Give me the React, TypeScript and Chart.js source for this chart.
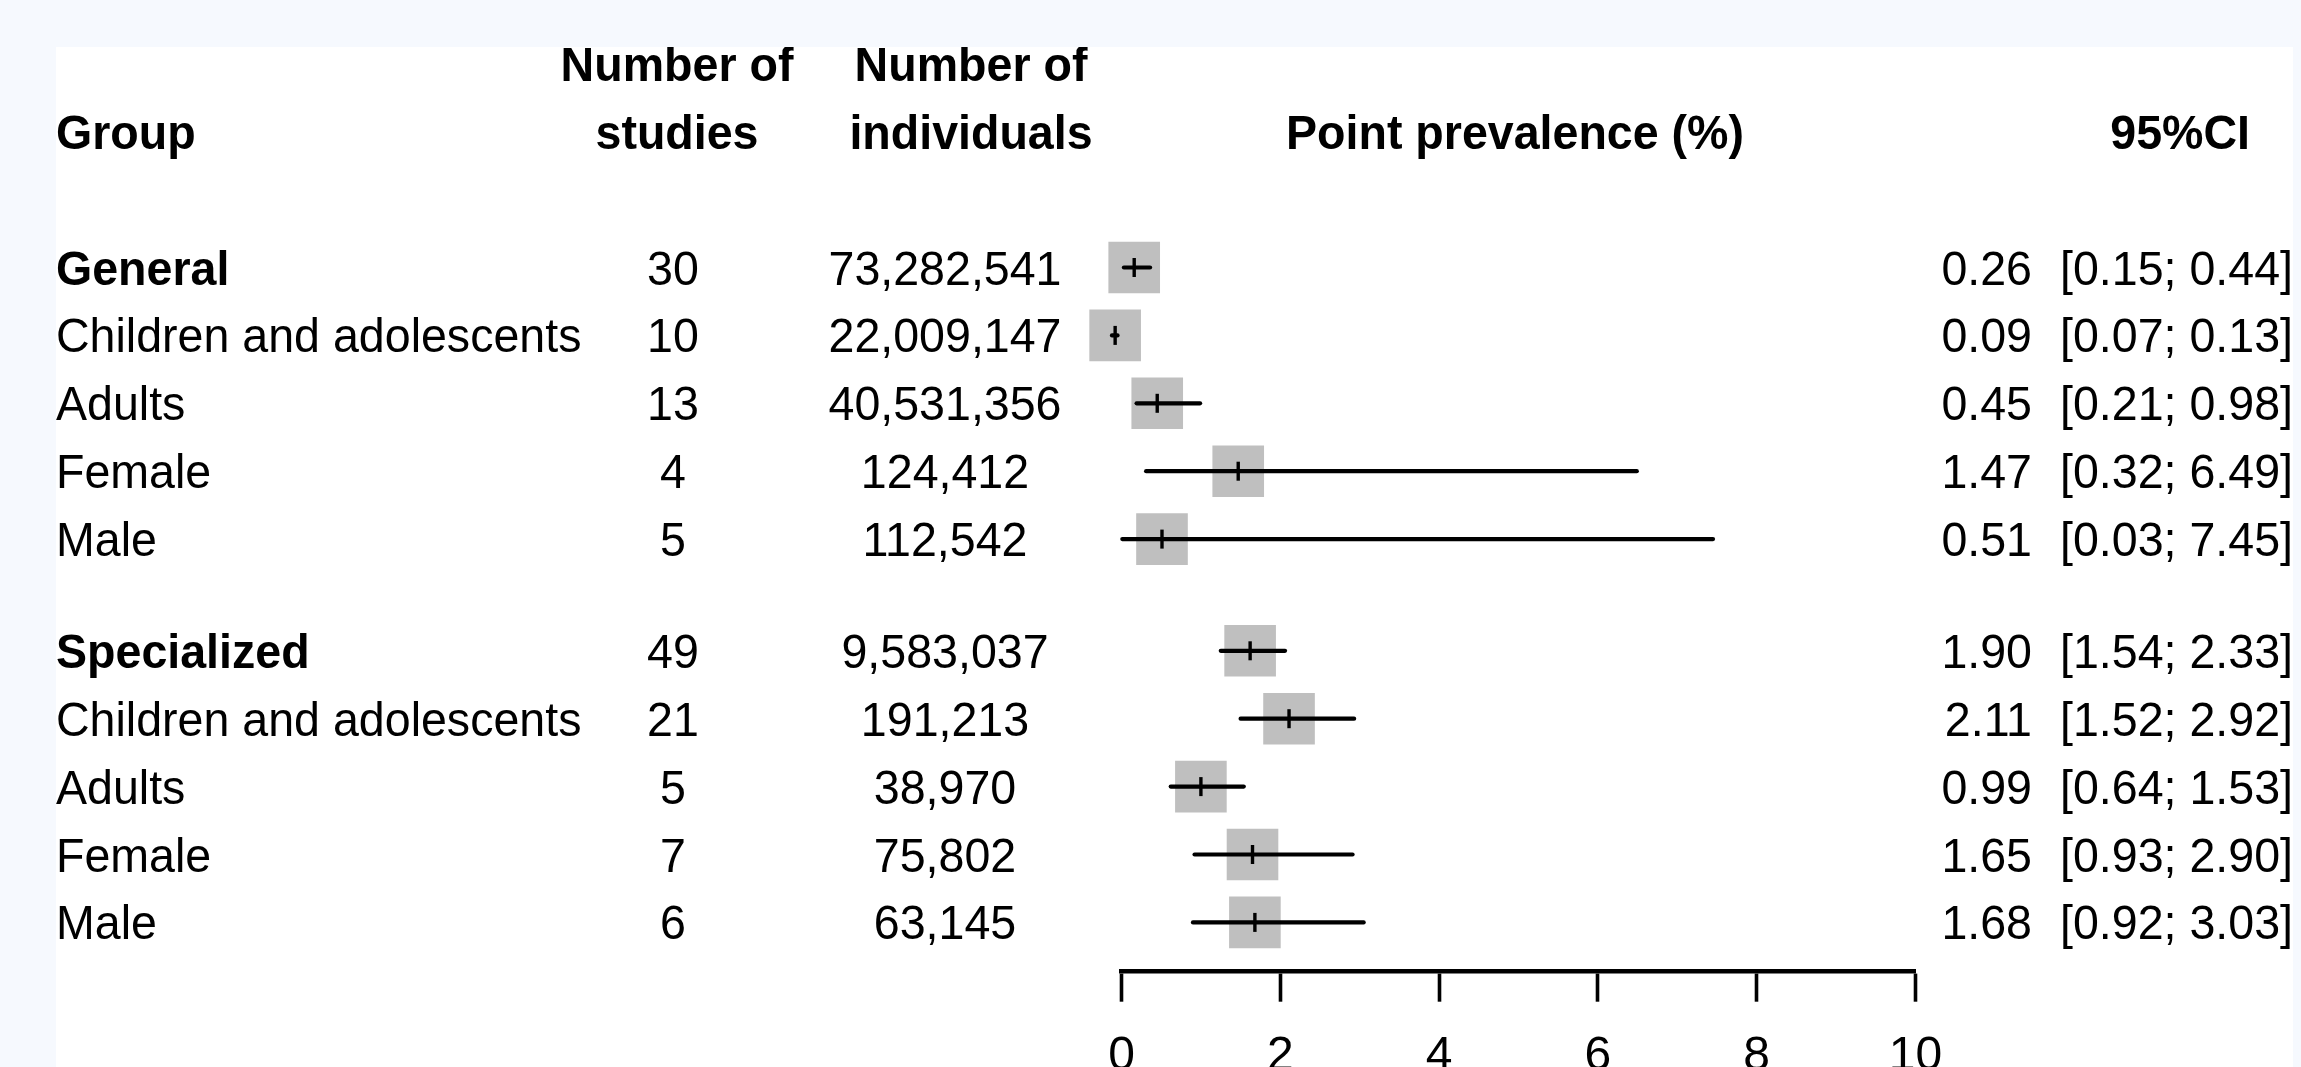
import React, { useEffect, useRef } from "react";
import { Chart, registerables } from "chart.js";

Chart.register(...registerables);

// ---------------- data ----------------
const groupNames = [
  "General",
  "Children and adolescents",
  "Adults",
  "Female",
  "Male",
  "Specialized",
  "Children and adolescents",
  "Adults",
  "Female",
  "Male",
];
const groupIsHeading = [true, false, false, false, false, true, false, false, false, false];
const studyCounts = [30, 10, 13, 4, 5, 49, 21, 5, 7, 6];
const individualCounts = [73282541, 22009147, 40531356, 124412, 112542, 9583037, 191213, 38970, 75802, 63145];
const prevalence = [0.26, 0.09, 0.45, 1.47, 0.51, 1.9, 2.11, 0.99, 1.65, 1.68];
const ciLower = [0.15, 0.07, 0.21, 0.32, 0.03, 1.54, 1.52, 0.64, 0.93, 0.92];
const ciUpper = [0.44, 0.13, 0.98, 6.49, 7.45, 2.33, 2.92, 1.53, 2.9, 3.03];

// where the marks sit in the figure
const markEstimate = [0.16, -0.08, 0.45, 1.47, 0.51, 1.62, 2.11, 1.0, 1.65, 1.68];
const markLower = [0.03, -0.12, 0.19, 0.31, 0.01, 1.25, 1.5, 0.62, 0.92, 0.9];
const markUpper = [0.36, -0.05, 0.99, 6.49, 7.45, 2.06, 2.93, 1.54, 2.91, 3.05];

const axisTicks = [0, 2, 4, 6, 8, 10];

const headerGroup = "Group";
const headerStudies = ["Number of", "studies"];
const headerIndividuals = ["Number of", "individuals"];
const headerPlot = "Point prevalence (%)";
const headerCI = "95%CI";

// ---------------- layout / style ----------------
const PAGE_BG = "#f6f9fe";
const PANEL_LEFT = 56;
const PANEL_TOP = 47;
const CANVAS_W = 2237;
const CANVAS_H = 1070;
const FONT = '"Liberation Sans", Arial, Helvetica, sans-serif';
const FONT_SIZE = 48;
const TEXT_SX = 0.97;
const CAP_HALF = 17;
const SECTION_GAP = 0.645;
const BOX_GREY = "#bfbfbf";

const COL_GROUP_X = 0;
const COL_STUDIES_X = 617;
const COL_STUDIES_HEAD_X = 621;
const COL_INDIV_X = 889;
const COL_INDIV_HEAD_X = 915;
const COL_EST_RIGHT = 1976;
const COL_CI_LEFT = 2004;
const COL_CI_HEAD_RIGHT = 2194;

const rowPos = (i: number) => i + (i >= 5 ? SECTION_GAP : 0);
const fmt2 = (v: number) => v.toFixed(2);

const tablePlugin = {
  id: "forestTable",
  afterDraw(chart: any) {
    const ctx = chart.ctx as CanvasRenderingContext2D;
    const ys = chart.scales.y;
    const xs = chart.scales.x;
    const put = (text: string, px: number, row: number, align: CanvasTextAlign, bold: boolean) => {
      const py = ys.getPixelForValue(row) + CAP_HALF;
      ctx.save();
      ctx.translate(px, py);
      ctx.scale(TEXT_SX, 1);
      ctx.font = `${bold ? "bold " : ""}${FONT_SIZE}px ${FONT}`;
      ctx.fillStyle = "#000";
      ctx.textAlign = align;
      ctx.textBaseline = "alphabetic";
      ctx.fillText(text, 0, 0);
      ctx.restore();
    };
    // headers
    put(headerGroup, COL_GROUP_X, -2, "left", true);
    put(headerStudies[0], COL_STUDIES_HEAD_X, -3, "center", true);
    put(headerStudies[1], COL_STUDIES_HEAD_X, -2, "center", true);
    put(headerIndividuals[0], COL_INDIV_HEAD_X, -3, "center", true);
    put(headerIndividuals[1], COL_INDIV_HEAD_X, -2, "center", true);
    const plotMid = (xs.getPixelForValue(axisTicks[0]) + xs.getPixelForValue(axisTicks[axisTicks.length - 1])) / 2;
    put(headerPlot, plotMid - 3.5, -2, "center", true);
    put(headerCI, COL_CI_HEAD_RIGHT, -2, "right", true);
    // rows
    groupNames.forEach((name, i) => {
      const r = rowPos(i);
      put(name, COL_GROUP_X, r, "left", groupIsHeading[i]);
      put(String(studyCounts[i]), COL_STUDIES_X, r, "center", false);
      put(individualCounts[i].toLocaleString("en-US"), COL_INDIV_X, r, "center", false);
      put(fmt2(prevalence[i]), COL_EST_RIGHT, r, "right", false);
      put(`[${fmt2(ciLower[i])}; ${fmt2(ciUpper[i])}]`, COL_CI_LEFT, r, "left", false);
    });
  },
};

export default function App() {
  const canvasRef = useRef<HTMLCanvasElement | null>(null);

  useEffect(() => {
    document.body.style.margin = "0";
    document.body.style.background = PAGE_BG;
    const canvas = canvasRef.current;
    if (!canvas) return;

    const ciDatasets = groupNames.map((_, i) => ({
      type: "line" as const,
      data: [
        { x: markLower[i], y: rowPos(i) },
        { x: markUpper[i], y: rowPos(i) },
      ],
      showLine: true,
      borderColor: "#000",
      borderWidth: 4.2,
      borderCapStyle: "round" as const,
      pointRadius: 0,
      clip: false as any,
      order: 1,
    }));

    const chart = new Chart(canvas, {
      type: "scatter",
      data: {
        datasets: [
          {
            data: groupNames.map((_, i) => ({ x: markEstimate[i], y: rowPos(i) })),
            pointStyle: "line",
            pointRotation: 90,
            pointRadius: 9.5,
            pointBorderWidth: 3.4,
            pointBorderColor: "#000",
            pointBackgroundColor: "#000",
            clip: false as any,
            order: 0,
          } as any,
          ...ciDatasets,
          {
            data: groupNames.map((_, i) => ({ x: markEstimate[i], y: rowPos(i) })),
            pointStyle: "rect",
            pointRadius: 36.5,
            pointBorderWidth: 0,
            pointBackgroundColor: BOX_GREY,
            pointBorderColor: BOX_GREY,
            clip: false as any,
            order: 2,
          } as any,
        ],
      },
      options: {
        animation: false,
        responsive: false,
        maintainAspectRatio: false,
        events: [],
        layout: { autoPadding: false, padding: { left: 1065.5, right: 377.5, top: 16.8, bottom: 4.3 } },
        plugins: { legend: { display: false }, tooltip: { enabled: false } },
        scales: {
          x: {
            type: "linear",
            position: "bottom",
            min: axisTicks[0],
            max: axisTicks[axisTicks.length - 1],
            afterBuildTicks: (scale: any) => {
              scale.ticks = axisTicks.map((v) => ({ value: v }));
            },
            ticks: {
              color: "#000",
              padding: 26.7,
              maxRotation: 0,
              autoSkip: false,
              font: { family: FONT, size: FONT_SIZE },
              callback: (v: any) => String(v),
            },
            grid: {
              drawOnChartArea: false,
              drawTicks: true,
              tickLength: 30,
              tickWidth: 3.6,
              tickColor: "#000",
            },
            border: { display: true, color: "#000", width: 4.6 },
          },
          y: {
            type: "linear",
            display: false,
            reverse: true,
            min: -3,
            max: 10.371,
          },
        },
      } as any,
      plugins: [tablePlugin],
    });

    return () => chart.destroy();
  }, []);

  return (
    <div
      style={{
        position: "relative",
        width: 2301,
        height: 1067,
        overflow: "hidden",
        background: PAGE_BG,
      }}
    >
      <div
        style={{
          position: "absolute",
          left: PANEL_LEFT,
          top: PANEL_TOP,
          width: CANVAS_W,
          height: CANVAS_H,
          background: "#fff",
        }}
      >
        <canvas
          ref={canvasRef}
          width={CANVAS_W}
          height={CANVAS_H}
          style={{ display: "block", width: CANVAS_W, height: CANVAS_H }}
        />
      </div>
    </div>
  );
}
